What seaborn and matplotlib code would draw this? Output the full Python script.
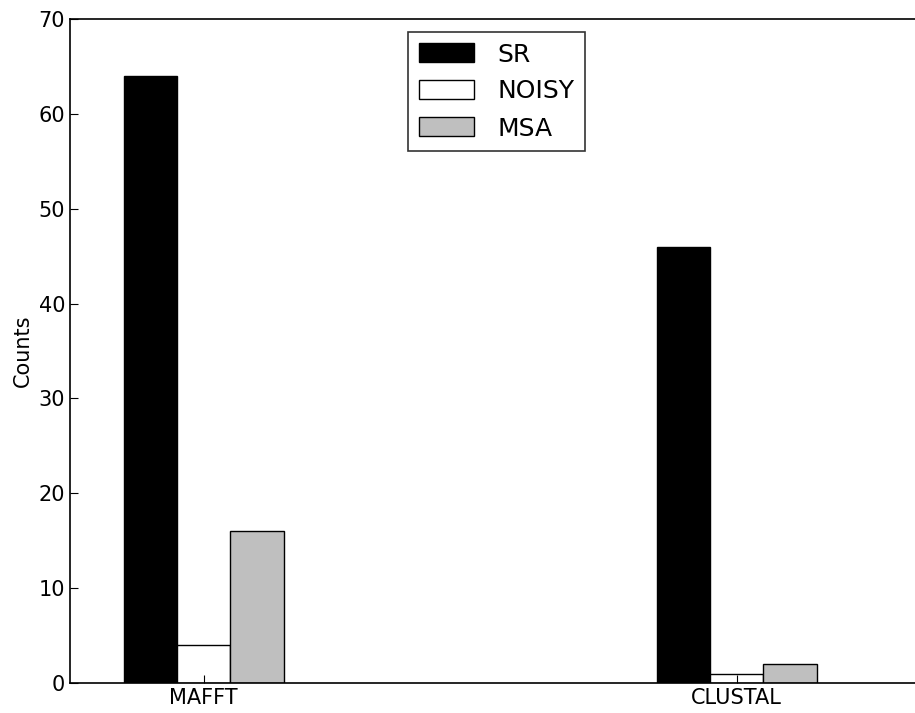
import matplotlib
matplotlib.use("Agg")
import matplotlib.pyplot as plt
import seaborn as sns
import pandas as pd

categories = ["MAFFT", "CLUSTAL"]
series = ["SR", "NOISY", "MSA"]
sr_values = [64, 46]
noisy_values = [4, 1]
msa_values = [16, 2]
colors = ["#000000", "#ffffff", "#bfbfbf"]

rows = []
for name, vals in zip(series, [sr_values, noisy_values, msa_values]):
    for c, v in zip(categories, vals):
        rows.append({"aligner": c, "type": name, "Counts": v})
df = pd.DataFrame(rows)

sns.set_style("white")
plt.rcParams["font.family"] = ["DejaVu Sans"]
plt.rcParams["text.color"] = "black"
plt.rcParams["axes.labelcolor"] = "black"
plt.rcParams["xtick.color"] = "black"
plt.rcParams["ytick.color"] = "black"
plt.rcParams["axes.axisbelow"] = False

fig = plt.figure(figsize=(9.15, 7.13), dpi=100)
ax = fig.add_axes([70 / 915, 1 - 683 / 713, (918 - 70) / 915, (683 - 19) / 713])

sns.barplot(data=df, x="aligner", y="Counts", hue="type", order=categories,
            hue_order=series, palette=colors, width=0.3, edgecolor="black",
            linewidth=1.0, saturation=1, ax=ax, legend=True)

ax.set_xlim(-0.251, 1.34)
ax.set_ylim(0, 70)
ax.set_yticks(range(0, 71, 10))
ax.set_xlabel("")
ax.set_ylabel("Counts", fontsize=15)
ax.tick_params(axis="both", direction="in", labelsize=15, length=6, width=0.8,
               color="black", labelcolor="black")
ax.tick_params(axis="x", top=False, bottom=True)
ax.tick_params(axis="y", left=True, right=False)
for s in ax.spines.values():
    s.set_visible(True)
    s.set_color("black")
    s.set_linewidth(1.2)

leg = ax.legend(loc="upper center", bbox_to_anchor=(0.503, 1.0), fontsize=18,
                frameon=True, fancybox=False, handlelength=2.2, handleheight=0.8,
                borderpad=0.42, labelspacing=0.52, borderaxespad=0.52,
                handletextpad=0.95)
leg.get_frame().set_edgecolor("black")
leg.get_frame().set_linewidth(1.2)
for t in leg.get_texts():
    t.set_color("black")

fig.savefig("out.png", dpi=100)
